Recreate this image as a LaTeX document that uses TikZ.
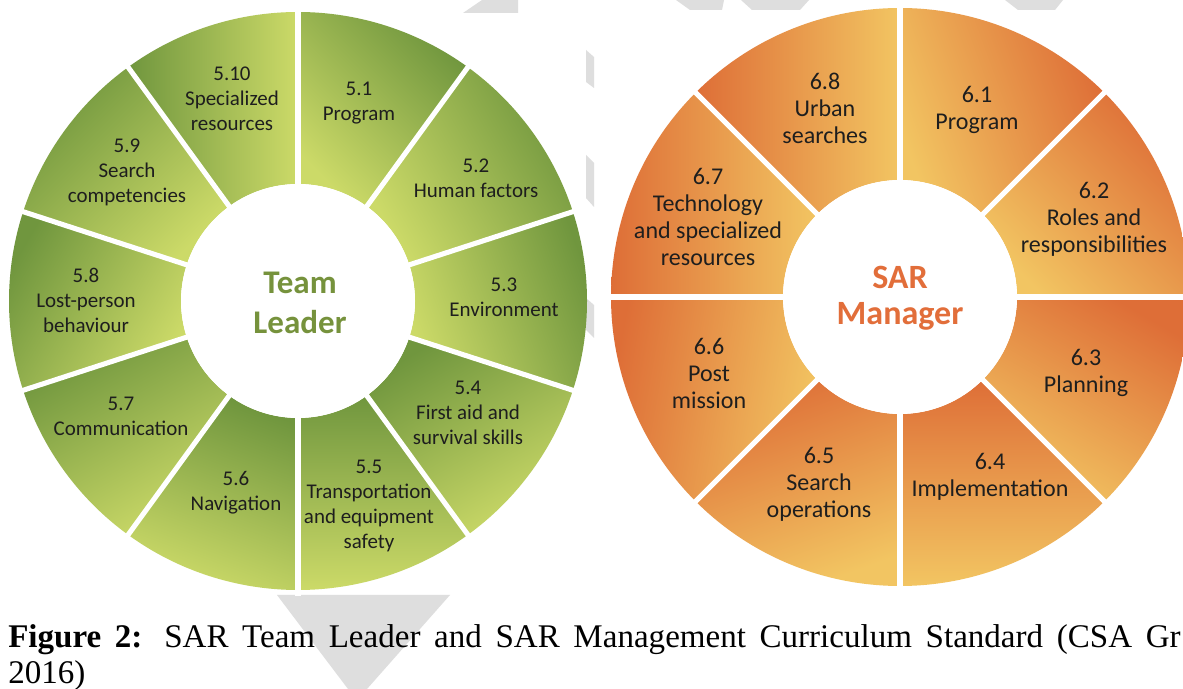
\documentclass[tikz,border=0pt]{standalone}
\usepackage{fontspec}
\setmainfont{Carlito}
\newfontfamily\capserif{Liberation Serif}
\usepackage{tikz}
\usetikzlibrary{calc}
\definecolor{grdark}{RGB}{112,150,62}
\definecolor{grlight}{RGB}{204,218,104}
\definecolor{ordark}{RGB}{222,110,55}
\definecolor{orlight}{RGB}{242,197,98}
\definecolor{hubgreen}{RGB}{118,146,60}
\definecolor{huborange}{RGB}{226,110,58}
\definecolor{lbltext}{RGB}{30,30,30}
\definecolor{wmgray}{RGB}{222,222,222}
\newcommand{\outR}{289}
\newcommand{\inR}{117}
% ring part: centre, start angle, end angle, style, shading angle
\newcommand{\ringpart}[5]{%
  \shade[#4, shading angle=#5] ($(#1)+(#2:\outR)$)
    arc[start angle=#2, end angle=#3, radius=\outR]
    -- ($(#1)+(#3:\inR)$)
    arc[start angle=#3, end angle=#2, radius=\inR] -- cycle;}
\tikzset{
  greenseg/.style={top color=grlight, bottom color=grdark},
  orangeseg/.style={top color=orlight, bottom color=ordark},
  gapline/.style={draw=white, line width=3.6pt},
  lblL/.style={font=\fontsize{14.9}{17.8}\selectfont, text=lbltext,
    align=center, inner sep=0pt},
  lblR/.style={font=\fontsize{17.1}{19.2}\selectfont, text=lbltext,
    align=center, inner sep=0pt},
  hubtextL/.style={font=\bfseries\fontsize{23.5}{28.5}\selectfont,
    text=hubgreen, align=center, inner sep=0pt},
  hubtextR/.style={font=\bfseries\fontsize{24.2}{25.6}\selectfont,
    text=huborange, align=center, inner sep=0pt},
  captext/.style={font=\capserif\fontsize{23.5}{30}\selectfont,
    anchor=base west, inner sep=0pt},
  wmark/.style={fill=wmgray, draw=none}
}

\begin{document}
\begin{tikzpicture}[x=0.025cm, y=0.025cm]
\useasboundingbox (0,0) rectangle (1183,689);
\clip (0,0) rectangle (1183,689);
\fill[white] (0,0) rectangle (1183,689);
% watermark pieces
\fill[wmark] (463,676) -- (482,689) -- (518,689) -- (518,676) -- cycle;
\fill[wmark] (676,689) -- (724,689) -- (722,679) -- (690,679) -- cycle;
\fill[wmark] (741,689) -- (809,689) -- (800,679) -- (752,679) -- cycle;
\fill[wmark] (1005,689) -- (1063,689) -- (1055,679) -- (1018,679) -- cycle;
\fill[wmark] (586,639) -- (594,632) -- (594,601) -- (586,607) -- cycle;
\fill[wmark] (586,534) -- (594,526) -- (594,482) -- (586,491) -- cycle;
\fill[wmark] (586,391) -- (594,384) -- (594,351) -- (586,359) -- cycle;
\fill[wmark] (277,94) -- (450,94) -- (367,0) -- (348,0) -- cycle;
% Team Leader ring
\coordinate (TL) at (298,388);
\ringpart{TL}{54}{90}{greenseg}{135}
\ringpart{TL}{18}{54}{greenseg}{120}
\ringpart{TL}{-18}{18}{greenseg}{110}
\ringpart{TL}{-54}{-18}{greenseg}{-150}
\ringpart{TL}{-90}{-54}{greenseg}{180}
\ringpart{TL}{-126}{-90}{greenseg}{160}
\ringpart{TL}{-162}{-126}{greenseg}{-150}
\ringpart{TL}{162}{198}{greenseg}{-120}
\ringpart{TL}{126}{162}{greenseg}{-135}
\ringpart{TL}{90}{126}{greenseg}{-90}
\foreach \a in {90,54,18,-18,-54,-90,-126,-162,-198,-234}
  \draw[gapline] (TL) -- ++(\a:295);
\fill[white] (TL) circle[radius=\inR];
% SAR Manager ring
\coordinate (SM) at (900,392);
\ringpart{SM}{45}{90}{orangeseg}{110}
\ringpart{SM}{0}{45}{orangeseg}{135}
\ringpart{SM}{-45}{0}{orangeseg}{150}
\ringpart{SM}{-90}{-45}{orangeseg}{180}
\ringpart{SM}{-135}{-90}{orangeseg}{-160}
\ringpart{SM}{180}{225}{orangeseg}{-100}
\ringpart{SM}{135}{180}{orangeseg}{-90}
\ringpart{SM}{90}{135}{orangeseg}{-90}
\foreach \a in {90,45,0,-45,-90,-135,-180,-225}
  \draw[gapline] (SM) -- ++(\a:295);
\fill[white] (SM) circle[radius=\inR];
% Team Leader labels
\node[lblL] (t510) at (232,590) {5.10\\Specialized\\resources};
\node[lblL] (t51) at (359,586) {5.1\\Program};
\node[lblL] (t52) at (476,511) {5.2\\Human factors};
\node[lblL] (t53) at (504,392) {5.3\\Environment};
\node[lblL] (t54) at (468,276) {5.4\\First aid and\\survival skills};
\node[lblL] (t55) at (369,183) {5.5\\Transportation\\and equipment\\safety};
\node[lblL] (t56) at (236,196) {5.6\\Navigation};
\node[lblL] (t57) at (121,273) {5.7\\Communication};
\node[lblL] (t58) at (86,389) {5.8\\Lost-person\\behaviour};
\node[lblL] (t59) at (127,517) {5.9\\Search\\competencies};
\node[hubtextL] (hubL) at (300,386) {Team\\Leader};
% SAR Manager labels
\node[lblR] (t68) at (825,581) {6.8\\Urban\\searches};
\node[lblR] (t61) at (977,579) {6.1\\Program};
\node[lblR] (t67) at (708,472) {6.7\\Technology\\and specialized\\resources};
\node[lblR] (t62) at (1094,470) {6.2\\Roles and\\responsibilities};
\node[lblR] (t66) at (709,316) {6.6\\Post\\mission};
\node[lblR] (t63) at (1086,316) {6.3\\Planning};
\node[lblR] (t65) at (819,205) {6.5\\Search\\operations};
\node[lblR] (t64) at (990,212) {6.4\\Implementation};
\node[hubtextR] (hubR) at (900,391) {SAR\\Manager};
% caption
\node[captext] (cap1) at (8,41) {\hbox to 29.3cm{\textbf{Figure 2:} SAR Team Leader and SAR Management Curriculum Standard (CSA Gr}};
\node[captext] (cap2) at (8,5) {2016)};
\end{tikzpicture}
\end{document}
